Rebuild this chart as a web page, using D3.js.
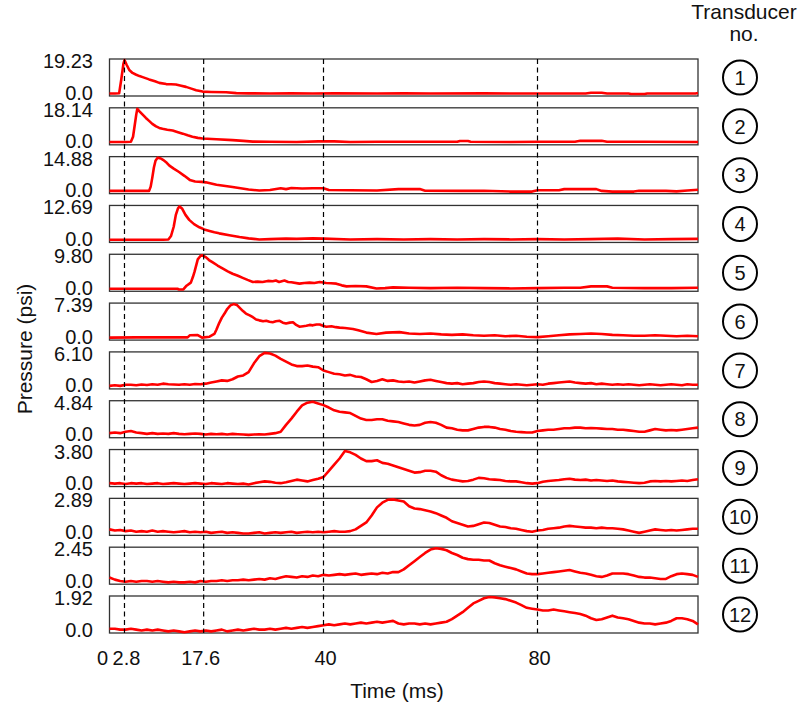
<!DOCTYPE html>
<html>
<head>
<meta charset="utf-8">
<script src="https://cdn.jsdelivr.net/npm/d3@7"></script>
<style>
  body { margin: 0; background: #fff; }
  svg { display: block; font-family: "Liberation Sans", Arial, Helvetica, sans-serif; }
</style>
</head>
<body>
<svg id="chart" width="803" height="708"></svg>
<script>
// peak pressure of each transducer (psi), also the top tick label of each panel
const maxPsi = [19.23, 18.14, 14.88, 12.69, 9.80, 7.39, 6.10, 4.84, 3.80, 2.89, 2.45, 1.92];
const transducerNo = d3.range(1, 13);
const timeTicks = [0, 2.8, 17.6, 40, 80];
const timeTickLabels = ["0", "2.8", "17.6", "40", "80"];

// transducers 1-6: [time ms, pressure psi]
const p1 = [[0,0],[1,0],[1.8,0.1],[2.2,8],[2.6,17],[2.8,19.23],[3.2,16.5],[3.7,13.5],[4.3,11.8],[4.9,10.9],[5.6,10.0],[6.2,9.4],[7.4,8.1],[8.5,7.0],[9.3,6.1],[10.6,5.4],[11.5,5.3],[12.4,5.2],[13.4,4.5],[14.3,3.8],[15.3,2.8],[16.2,1.9],[17.4,1.1],[19,0.9],[21.8,0.7],[23.7,0.2],[26,0.1],[30,0.0],[34,0.1],[38,0.0],[42,0.1],[50,0.0],[55,0.1],[60,0.0],[70,0.05],[80,0.0],[89,0.0],[90,0.4],[92,0.4],[93,0.0],[97,0.0],[97.5,-0.3],[100,-0.3],[100.5,0],[109.5,0.0],[110,0.3]];
const p2 = [[0,0.2],[3,0.2],[4.0,0.3],[4.4,3],[4.7,9],[5.0,15],[5.2,18.14],[5.6,16.8],[6.2,15.0],[6.8,13.2],[7.4,11.6],[8.0,10.0],[8.7,8.6],[9.3,7.8],[9.9,7.3],[10.8,6.8],[11.8,6.4],[12.8,5.5],[13.7,4.7],[14.6,3.8],[15.5,3.0],[16.5,2.4],[17.4,2.1],[20,1.7],[23,1.2],[25,0.8],[26.8,0.4],[30,0.3],[35,0.2],[39,0.5],[42,0.5],[45,0.2],[50,0.3],[55,0.3],[65,0.3],[65.5,0.7],[67,0.7],[67.5,0.3],[75,0.2],[80,0.3],[87,0.3],[88,0.8],[92,0.8],[93,0.3],[100,0.3],[110,0.2]];
const p3 = [[0,0.1],[5,0.1],[7.4,0.1],[7.7,2],[8.0,6],[8.3,10.5],[8.6,13.5],[9.0,14.88],[9.6,14.5],[10.0,13.9],[10.7,12.6],[11.2,11.3],[12.0,10.0],[13.0,8.5],[14.0,6.8],[15.0,5.0],[16.0,4.3],[17.2,4.1],[18,3.9],[20,2.8],[23,1.8],[26,0.7],[28,0.3],[30,0.5],[32,1.3],[33,0.9],[34,1.4],[36,1.2],[38,1.3],[40,1.3],[41,0.5],[45,0.4],[50,0.3],[54,0.9],[58,0.9],[59,0.2],[66,0.1],[70,0.2],[75,-0.2],[79,-0.2],[80,0.4],[84,0.4],[85,0.9],[91,0.9],[92,0.1],[94,-0.2],[98,-0.2],[99,0.2],[104,0.1],[106,-0.1],[108,0.3],[110,0.6]];
const p4 = [[0,0.1],[5,0.1],[10,0.1],[11.0,0.2],[11.5,1.5],[12.0,5],[12.4,9.5],[12.8,12.0],[13.1,12.69],[13.6,11.8],[14.2,9.5],[14.9,7.6],[15.8,6.0],[16.8,4.8],[17.7,4.0],[18.7,3.4],[19.6,2.9],[20.5,2.5],[22.4,1.8],[24.3,1.1],[26,0.6],[28,0.2],[30,0.3],[33,0.5],[35,0.4],[38,0.6],[40,0.5],[45,0.2],[50,0.3],[55,0.2],[60,0.3],[65,0.2],[70,0.3],[75,0.2],[80,0.3],[85,0.2],[90,0.3],[95,0.5],[100,0.2],[105,0.3],[110,0.4]];
const p5 = [[0,0],[5,0],[10,0],[12.7,0],[13.0,-0.2],[13.8,-0.2],[14.4,0.9],[15.2,1.8],[15.6,3.5],[15.9,5.0],[16.5,8.6],[17.0,9.6],[17.3,9.8],[18.0,9.25],[18.6,8.4],[19.3,7.7],[20.2,6.8],[21.2,5.9],[22.1,5.1],[23.0,4.4],[24.0,3.8],[24.9,3.2],[25.8,2.6],[26.8,2.0],[27.7,2.1],[28.6,2.0],[29.6,2.3],[30.5,2.2],[31.1,2.4],[31.7,2.0],[32.7,2.4],[33.4,2.0],[34.0,1.9],[35.5,1.5],[36.4,1.7],[37.4,1.8],[38.3,1.7],[39.3,2.0],[40.5,1.7],[41.4,1.6],[42.4,1.5],[43.4,1.0],[44.3,0.7],[46,0.8],[48,0.7],[49.9,0.1],[51.5,0.2],[53,0.4],[56,0.3],[60,0.2],[65,0.3],[70,0.2],[75,0.1],[80,0.2],[85,0.3],[88,0.3],[90,0.7],[93,0.7],[94,0.3],[100,0.2],[105,0.2],[110,0.3]];
const p6 = [[0,0],[5,0.05],[10,0.05],[14.6,0.05],[15.0,0.5],[16.5,0.55],[17.3,0],[18.7,0.2],[19.6,0.8],[20.0,1.8],[20.5,3.2],[21.0,4.4],[21.5,5.3],[22.0,6.3],[22.6,7.1],[23.2,7.39],[23.8,7.2],[24.3,6.6],[24.9,5.9],[25.5,5.3],[26.2,4.9],[26.8,4.5],[27.4,4.0],[28.0,3.8],[28.7,3.6],[29.3,3.7],[29.9,3.5],[30.5,3.4],[31.1,3.6],[31.8,3.7],[32.4,3.3],[33.0,3.1],[33.7,3.3],[34.3,3.4],[34.9,2.8],[35.5,2.4],[36.2,2.5],[36.8,2.6],[37.4,2.8],[38.0,2.7],[38.7,2.9],[39.3,2.9],[39.9,2.6],[40.5,2.4],[41.5,2.5],[42.3,2.3],[43.0,2.2],[44,2.1],[45.5,1.9],[46.5,1.6],[48,1.1],[49.9,0.8],[51.7,1.1],[54.2,1.2],[56,0.9],[58,0.8],[60,0.9],[62,0.7],[64,0.6],[66,0.7],[68,0.5],[70,0.4],[72,0.5],[74,0.3],[76,0.4],[78,0.2],[80,0.1],[82,0.3],[84,0.5],[86,0.7],[88,0.8],[90,0.9],[92,0.8],[94,0.6],[96,0.5],[98,0.4],[100,0.4],[102,0.5],[104,0.4],[106,0.3],[108,0.4],[110,0.3]];

// transducers 7-12: one reading per millisecond, 0..110 ms
const sampleMs = d3.range(0, 111);
const p7 = [0.1,0.2,0.1,0.3,0.3,0.2,0.35,0.25,0.4,0.3,0.5,0.4,0.35,0.3,0.4,0.3,0.45,0.4,0.5,0.7,0.9,1.1,1.0,1.3,1.8,2.0,2.6,4.2,5.5,6.1,6.0,5.6,5.0,4.5,4.0,3.7,3.7,3.8,3.6,3.5,2.9,2.6,2.3,2.2,2.0,2.1,1.8,1.7,1.3,0.8,1.0,1.3,1.0,1.1,0.9,0.8,0.9,0.7,0.9,1.1,1.2,1.0,0.8,0.6,0.5,0.6,0.4,0.5,0.6,0.8,0.9,0.8,0.6,0.5,0.4,0.3,0.4,0.3,0.2,0.3,0.4,0.3,0.5,0.6,0.7,0.8,0.9,0.7,0.6,0.5,0.6,0.4,0.5,0.4,0.3,0.4,0.3,0.4,0.3,0.2,0.3,0.4,0.3,0.2,0.3,0.4,0.3,0.2,0.4,0.3,0.3];
const p8 = [0.3,0.4,0.3,0.5,0.6,0.4,0.3,0.2,0.3,0.2,0.25,0.2,0.3,0.2,0.15,0.2,0.25,0.2,0.1,0.2,0.15,0.2,0.1,0.2,0.15,0.1,0.05,0.1,0.15,0.1,0.2,0.3,0.5,1.5,2.4,3.4,4.3,4.7,4.84,4.6,4.35,4.0,3.6,3.4,3.3,3.2,2.8,2.4,2.2,2.2,2.3,2.3,2.1,2.0,1.9,1.7,1.5,1.4,1.5,1.8,1.9,1.8,1.5,1.1,1.0,0.8,0.7,0.7,0.9,1.1,1.2,1.2,1.1,0.9,0.8,0.6,0.5,0.45,0.4,0.4,0.6,0.7,0.8,0.8,0.9,1.0,1.0,1.1,1.1,1.0,1.05,1.0,0.95,0.9,0.9,0.8,0.8,0.7,0.6,0.5,0.5,0.7,0.9,0.8,0.7,0.75,0.7,0.8,0.9,1.0,1.1];
const p9 = [0.1,0.05,0.1,0.0,0.1,0.05,0.1,0.0,0.05,0.1,0.0,0.05,0.1,0.05,0.0,0.05,0.1,0.05,0.0,0.1,0.05,0.0,0.1,0.05,0.0,0.05,-0.05,0.1,0.2,0.3,0.25,0.15,0.1,0.2,0.35,0.5,0.4,0.3,0.45,0.6,0.8,1.5,2.2,2.9,3.75,3.6,3.3,2.9,2.6,2.6,2.7,2.4,2.3,2.1,1.9,1.7,1.5,1.3,1.35,1.5,1.5,1.4,1.0,0.7,0.5,0.4,0.3,0.35,0.5,0.7,0.65,0.55,0.5,0.45,0.35,0.3,0.3,0.2,0.1,0.05,0.1,0.25,0.35,0.4,0.45,0.55,0.6,0.5,0.45,0.5,0.4,0.45,0.4,0.35,0.4,0.3,0.25,0.2,0.15,0.1,0.15,0.3,0.35,0.3,0.35,0.3,0.35,0.4,0.35,0.45,0.55];
const p10 = [0.3,0.2,0.25,0.15,0.2,0.1,0.15,0.1,0.2,0.1,0.15,0.1,0.05,0.1,0.15,0.05,0.1,0.05,0.1,0.0,0.05,0.1,0.0,0.05,0.0,-0.05,-0.05,0.0,0.05,-0.05,0.0,0.05,0.0,0.05,0.1,0.0,0.05,0.1,0.05,0.1,0.05,0.1,0.15,0.1,0.1,0.15,0.3,0.6,0.9,1.5,2.2,2.6,2.85,2.89,2.8,2.7,2.3,2.1,2.05,1.95,1.85,1.7,1.5,1.3,1.0,0.85,0.7,0.55,0.6,0.75,0.9,0.85,0.7,0.55,0.5,0.4,0.35,0.25,0.15,0.1,0.2,0.25,0.35,0.4,0.45,0.55,0.6,0.55,0.5,0.45,0.45,0.4,0.45,0.4,0.4,0.35,0.3,0.2,0.1,0.0,0.1,0.2,0.3,0.25,0.2,0.25,0.2,0.25,0.3,0.35,0.35];
const p11 = [0.3,0.15,0.05,0.0,0.05,0.0,0.05,0.05,0.0,0.05,0.0,-0.05,0.0,-0.05,-0.05,0.0,-0.05,0.05,0.0,0.05,0.05,0.1,0.05,0.1,0.1,0.15,0.1,0.15,0.2,0.15,0.25,0.2,0.3,0.4,0.35,0.3,0.4,0.35,0.45,0.4,0.5,0.45,0.5,0.55,0.5,0.55,0.6,0.5,0.55,0.6,0.55,0.65,0.6,0.7,0.7,0.9,1.2,1.5,1.8,2.1,2.35,2.45,2.4,2.3,2.1,1.95,1.75,1.65,1.6,1.6,1.55,1.55,1.35,1.2,1.1,1.0,0.9,0.75,0.6,0.55,0.55,0.6,0.65,0.7,0.75,0.8,0.85,0.75,0.65,0.6,0.5,0.4,0.35,0.45,0.6,0.6,0.6,0.55,0.45,0.35,0.3,0.3,0.25,0.2,0.2,0.4,0.55,0.6,0.55,0.5,0.35];
const p12 = [0.1,0.1,0.05,0.05,0.1,0.05,0.0,0.05,0.0,0.05,0.0,-0.05,0.0,-0.05,-0.1,-0.05,0.0,-0.05,0.0,-0.05,0.0,0.05,-0.05,0.0,0.05,0.0,0.05,0.1,0.05,0.05,0.1,0.05,0.1,0.15,0.1,0.15,0.2,0.15,0.2,0.25,0.3,0.35,0.3,0.35,0.4,0.35,0.4,0.45,0.4,0.45,0.5,0.45,0.5,0.55,0.4,0.35,0.4,0.4,0.35,0.4,0.35,0.4,0.45,0.5,0.65,0.85,1.05,1.3,1.55,1.7,1.85,1.92,1.9,1.85,1.8,1.7,1.6,1.45,1.3,1.25,1.2,1.15,1.15,1.2,1.15,1.1,1.05,1.0,0.95,0.85,0.7,0.6,0.65,0.75,0.85,0.75,0.7,0.65,0.55,0.45,0.4,0.4,0.35,0.4,0.45,0.55,0.7,0.7,0.65,0.55,0.35];

document.addEventListener('DOMContentLoaded', () => {
    const svg = d3.select("#chart");
    const width = 803;

    const traces = [p1, p2, p3, p4, p5, p6]
        .concat([p7, p8, p9, p10, p11, p12].map(vals => vals.map((v, i) => [sampleMs[i], v])));

    const x = d3.scaleLinear().domain([0, 110]).range([109.5, 698]);
    const panelTop = d3.scaleLinear().domain([0, 11]).range([59, 596]);
    const panelH = 37;
    const plotTop = panelTop(0), plotBottom = panelTop(11) + panelH;

    svg.append("rect").attr("width", width).attr("height", 708).attr("fill", "#fff");

    const panels = svg.selectAll("g.panel")
        .data(traces)
        .enter().append("g")
        .attr("class", "panel")
        .attr("transform", (d, i) => `translate(0,${panelTop(i)})`);

    panels.each(function(d, i) {
        const g = d3.select(this);
        const y = d3.scaleLinear().domain([0, maxPsi[i]]).range([panelH - 2.5, 1]);

        g.append("rect")
            .attr("x", x(0)).attr("y", 0)
            .attr("width", x(110) - x(0)).attr("height", panelH)
            .attr("fill", "none").attr("stroke", "#333").attr("stroke-width", 1.3);

        g.append("path")
            .datum(d)
            .attr("fill", "none")
            .attr("stroke", "#ff0000")
            .attr("stroke-width", 2.6)
            .attr("stroke-linejoin", "round")
            .attr("d", d3.line().x(p => x(p[0])).y(p => y(p[1])));

        // top and zero tick labels
        g.selectAll("text.ylab")
            .data([maxPsi[i], 0])
            .enter().append("text")
            .attr("class", "ylab")
            .attr("x", 93)
            .attr("y", v => y(v))
            .attr("dy", v => v === 0 ? "0.3em" : "0.4em")
            .attr("text-anchor", "end")
            .attr("font-size", 20)
            .attr("fill", "#111")
            .text(v => v === 0 ? "0.0" : d3.format(".2f")(v));

        // transducer number in a circle
        const cy = panelH / 2;
        g.append("circle")
            .attr("cx", 740).attr("cy", cy).attr("r", 17)
            .attr("fill", "none").attr("stroke", "#000").attr("stroke-width", 2);
        g.append("text")
            .attr("x", 740).attr("y", cy).attr("dy", "0.36em")
            .attr("text-anchor", "middle")
            .attr("font-size", 20)
            .attr("fill", "#111")
            .text(transducerNo[i]);
    });

    // dashed arrival time markers
    svg.selectAll("line.marker")
        .data(timeTicks.slice(1))
        .enter().append("line")
        .attr("class", "marker")
        .attr("x1", d => x(d)).attr("x2", d => x(d))
        .attr("y1", plotTop).attr("y2", plotBottom)
        .attr("stroke", "#000")
        .attr("stroke-width", 1.2)
        .attr("stroke-dasharray", "5,3.5");

    // time tick labels ("0" nudged left so it does not collide with 2.8)
    const nudge = { "0": -9, "17.6": -5 };
    svg.selectAll("text.xlab")
        .data(timeTicks)
        .enter().append("text")
        .attr("class", "xlab")
        .attr("x", (d, i) => x(d) + (nudge[timeTickLabels[i]] || 0) + 2)
        .attr("y", 665)
        .attr("text-anchor", "middle")
        .attr("font-size", 20)
        .attr("fill", "#111")
        .text((d, i) => timeTickLabels[i]);

    svg.append("text")
        .attr("x", 397).attr("y", 698)
        .attr("text-anchor", "middle")
        .attr("font-size", 21)
        .attr("fill", "#111")
        .text("Time (ms)");

    svg.append("text")
        .attr("transform", "translate(25,349) rotate(-90)")
        .attr("dy", "0.35em")
        .attr("text-anchor", "middle")
        .attr("font-size", 21)
        .attr("fill", "#111")
        .text("Pressure (psi)");

    svg.append("text")
        .attr("x", 744).attr("y", 19)
        .attr("text-anchor", "middle")
        .attr("font-size", 21)
        .attr("fill", "#111")
        .text("Transducer");
    svg.append("text")
        .attr("x", 744).attr("y", 41)
        .attr("text-anchor", "middle")
        .attr("font-size", 21)
        .attr("fill", "#111")
        .text("no.");
});
</script>
</body>
</html>
